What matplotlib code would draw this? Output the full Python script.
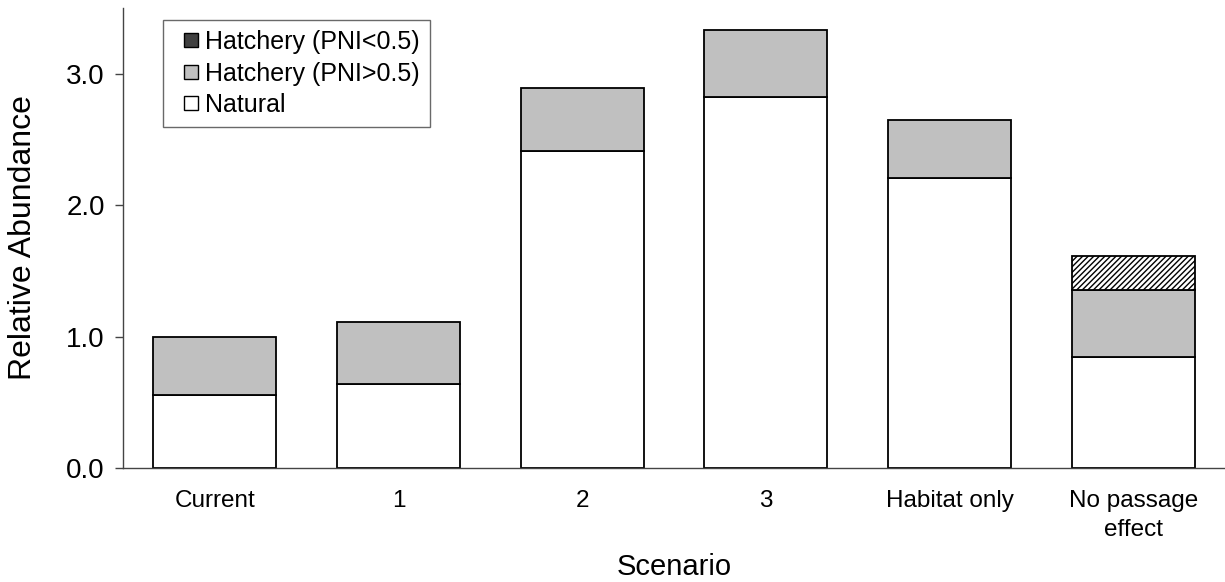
import numpy as np
import matplotlib
matplotlib.use("Agg")
import matplotlib.pyplot as plt
from matplotlib.patches import Patch, Rectangle
from matplotlib.legend_handler import HandlerPatch

plt.rcParams['font.family'] = ['Liberation Sans', 'DejaVu Sans']
plt.rcParams['hatch.linewidth'] = 1.0

scenarios = ['Current', '1', '2', '3', 'Habitat only', 'No passage\neffect']
natural = [0.556, 0.64, 2.41, 2.82, 2.21, 0.845]
hatch_hi = [0.444, 0.47, 0.48, 0.51, 0.44, 0.51]      # Hatchery (PNI>0.5)
hatch_lo = [0.0, 0.0, 0.0, 0.0, 0.0, 0.255]           # Hatchery (PNI<0.5)

x = np.arange(len(scenarios))
w = 0.67

fig = plt.figure(figsize=(12.25, 5.82), dpi=100)
ax = fig.add_axes([0.1004, 0.196, 0.8996, 0.79])

ax.bar(x, natural, w, color='white', edgecolor='black', linewidth=1.3)
ax.bar(x, hatch_hi, w, bottom=natural, color='#c0c0c0', edgecolor='black', linewidth=1.3)
bottom2 = np.array(natural) + np.array(hatch_hi)
mask = np.array(hatch_lo) > 0
ax.bar(x[mask], np.array(hatch_lo)[mask], w, bottom=bottom2[mask], color='white',
       edgecolor='black', hatch='//////', linewidth=1.3)

ax.set_xlim(-0.5, 5.5)
ax.set_ylim(0, 3.5)
ax.set_yticks([0, 1, 2, 3])
ax.set_yticklabels(['0.0', '1.0', '2.0', '3.0'], fontsize=20)
ax.set_xticks(x)
ax.set_xticklabels(scenarios, fontsize=17.5, linespacing=1.4)
ax.tick_params(axis='x', length=0, pad=16)
ax.tick_params(axis='y', direction='out', length=6, width=1, color='#444444', pad=7)
for s in ['top', 'right']:
    ax.spines[s].set_visible(False)
for s in ['left', 'bottom']:
    ax.spines[s].set_color('#444444')
    ax.spines[s].set_linewidth(1)

ax.set_xlabel('Scenario', fontsize=21, labelpad=9)
ax.set_ylabel('Relative Abundance', fontsize=23, labelpad=20.5)


# small square marker placed at the right of the handle box
def small_square(legend, orig_handle, xdescent, ydescent, width, height, fontsize):
    s = 0.55 * fontsize
    return Rectangle((-xdescent + width - s, -ydescent + (height - s) / 2), s, s)


handles = [Patch(facecolor='#404040', edgecolor='black', label='Hatchery (PNI<0.5)'),
           Patch(facecolor='#c0c0c0', edgecolor='black', label='Hatchery (PNI>0.5)'),
           Patch(facecolor='white', edgecolor='black', label='Natural')]
leg = ax.legend(handles=handles, loc='upper left', bbox_to_anchor=(0.036, 0.974),
                fontsize=18, frameon=True, fancybox=False, handlelength=1.0,
                handleheight=0.7, handletextpad=0.3, borderpad=0.4, labelspacing=0.3,
                borderaxespad=0,
                handler_map={Patch: HandlerPatch(patch_func=small_square)})
leg.get_frame().set_edgecolor('#444444')
leg.get_frame().set_linewidth(1)

fig.savefig('out.png', dpi=100)
